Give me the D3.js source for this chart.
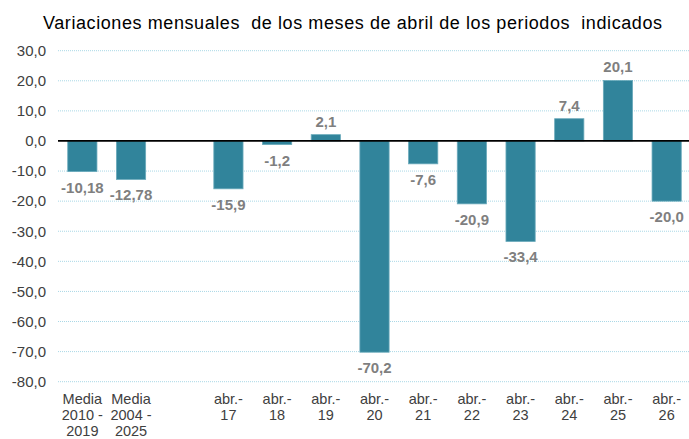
<!DOCTYPE html>
<html lang="es">
<head>
    <meta charset="UTF-8">
    <title>Variaciones mensuales abril</title>
    <style>
        html, body {
            margin: 0;
            padding: 0;
            background: #ffffff;
        }
        svg text {
            font-family: "Liberation Sans", Arial, sans-serif;
        }
    </style>
</head>
<body>
<svg id="chart"></svg>
<script src="https://cdnjs.cloudflare.com/ajax/libs/d3/7.8.5/d3.min.js"></script>
<script>
    "use strict"

    // datos
    const categories = ["m1", "m2", "gap", "a17", "a18", "a19", "a20", "a21", "a22", "a23", "a24", "a25", "a26"];
    const tickLabels = [
        ["Media", "2010 -", "2019"],
        ["Media", "2004 -", "2025"],
        [],
        ["abr.-", "17"], ["abr.-", "18"], ["abr.-", "19"], ["abr.-", "20"], ["abr.-", "21"],
        ["abr.-", "22"], ["abr.-", "23"], ["abr.-", "24"], ["abr.-", "25"], ["abr.-", "26"]
    ];
    const values = [-10.18, -12.78, null, -15.9, -1.2, 2.1, -70.2, -7.6, -20.9, -33.4, 7.4, 20.1, -20.0];
    const valueLabels = ["-10,18", "-12,78", "", "-15,9", "-1,2", "2,1", "-70,2", "-7,6", "-20,9", "-33,4", "7,4", "20,1", "-20,0"];
    const yTicks = [30, 20, 10, 0, -10, -20, -30, -40, -50, -60, -70, -80];

    const width = 689, height = 439;

    const svg = d3.select("#chart")
        .attr("width", width)
        .attr("height", height);

    const x = d3.scaleBand()
        .domain(categories)
        .range([58, 691])
        .paddingInner(0.4)
        .paddingOuter(0.2);

    const y = d3.scaleLinear()
        .domain([-80, 30])
        .range([381.7, 50.7]);

    // titulo
    svg.append("text")
        .attr("x", 43)
        .attr("y", 28.5)
        .attr("font-size", "18px")
        .attr("fill", "#000")
        .attr("xml:space", "preserve")
        .style("white-space", "pre")
        .attr("textLength", 619)
        .attr("lengthAdjust", "spacing")
        .text("Variaciones mensuales  de los meses de abril de los periodos  indicados");

    // rejilla
    svg.append("g")
        .selectAll("line")
        .data(yTicks.filter(d => d !== 0))
        .join("line")
        .attr("x1", 58)
        .attr("x2", width)
        .attr("y1", d => y(d))
        .attr("y2", d => y(d))
        .attr("stroke", "#a9d8e6")
        .attr("stroke-width", 1)
        .attr("stroke-dasharray", "1,1");

    // eje y
    const yAxis = svg.append("g")
        .attr("transform", "translate(58,0)")
        .call(d3.axisLeft(y).tickValues(yTicks).tickSize(0).tickPadding(12)
            .tickFormat(d => d3.format(".1f")(d).replace(".", ",").replace("−", "-")));
    yAxis.select(".domain").remove();
    yAxis.selectAll("text")
        .attr("font-size", "15px")
        .attr("fill", "#404040")
        .attr("font-family", "'Liberation Sans', Arial, sans-serif");

    // barras
    const data = categories.map((c, i) => ({c, v: values[i], label: valueLabels[i], ticks: tickLabels[i]}));

    svg.append("g")
        .selectAll("rect")
        .data(data.filter(d => d.v !== null))
        .join("rect")
        .attr("x", d => x(d.c))
        .attr("width", x.bandwidth())
        .attr("y", d => y(Math.max(0, d.v)))
        .attr("height", d => Math.abs(y(d.v) - y(0)))
        .attr("fill", "#31849b")
        .attr("stroke", "#6aaabb")
        .attr("stroke-width", 0.8);

    // linea cero
    svg.append("line")
        .attr("x1", 58)
        .attr("x2", width)
        .attr("y1", y(0))
        .attr("y2", y(0))
        .attr("stroke", "#000")
        .attr("stroke-width", 1.8);

    // etiquetas de valores
    svg.append("g")
        .selectAll("text")
        .data(data.filter(d => d.v !== null))
        .join("text")
        .attr("x", d => x(d.c) + x.bandwidth() / 2)
        .attr("y", d => d.v >= 0 ? y(d.v) - 8 : y(d.v) + 21)
        .attr("text-anchor", "middle")
        .attr("font-size", "15px")
        .attr("font-weight", "bold")
        .attr("fill", "#7f7f7f")
        .text(d => d.label);

    // etiquetas eje x
    const xl = svg.append("g")
        .selectAll("text")
        .data(data)
        .join("text")
        .attr("x", d => x(d.c) + x.bandwidth() / 2)
        .attr("y", 404)
        .attr("text-anchor", "middle")
        .attr("font-size", "14.5px")
        .attr("fill", "#404040");

    xl.selectAll("tspan")
        .data(d => d.ticks)
        .join("tspan")
        .attr("x", function () { return d3.select(this.parentNode).attr("x"); })
        .attr("dy", (d, i) => i === 0 ? 0 : 16)
        .text(d => d);
</script>
</body>
</html>
